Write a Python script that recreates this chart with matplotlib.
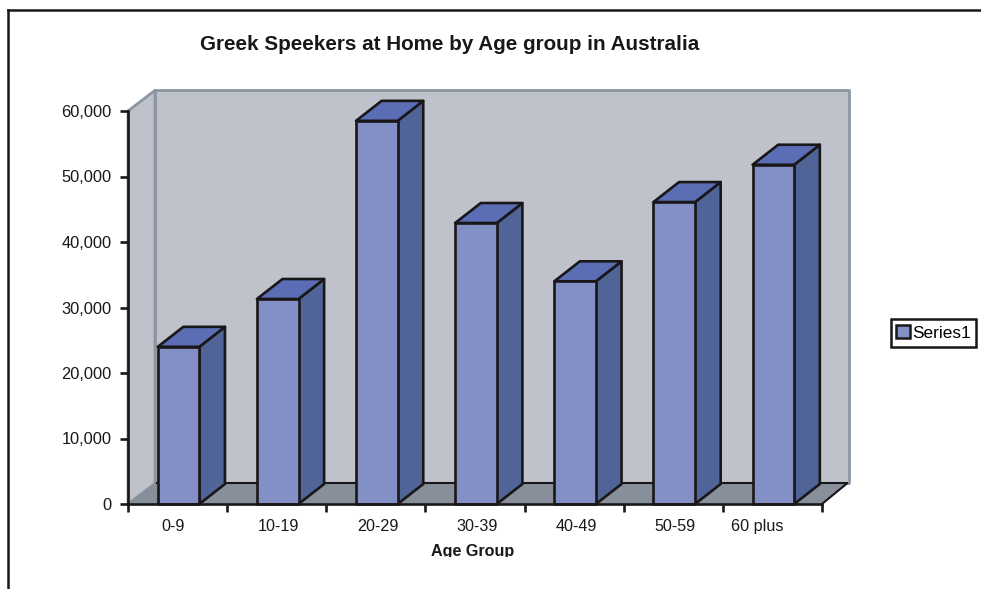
import matplotlib
matplotlib.use('Agg')
import matplotlib.pyplot as plt
import numpy as np
from matplotlib.lines import Line2D
from matplotlib.patches import Patch, Polygon
from matplotlib.transforms import Bbox, ScaledTranslation

plt.rcParams['font.family'] = ['Liberation Sans', 'DejaVu Sans']

age_groups = ['0-9', '10-19', '20-29', '30-39', '40-49', '50-59', '60 plus']
speakers = [24000, 31300, 58500, 42900, 34000, 46100, 51800]
y_ticks = [0, 10000, 20000, 30000, 40000, 50000, 60000]

W, H = 981, 589
DEPTH_X = 0.272     # wall/floor 3d offset in category units
DEPTH_Y = 3150      # 3d offset in value units
BAR_DX = 0.258      # bars are a little shallower than the floor
BAR_DY = 3050
BAR_W = 0.42

FRONT = '#8390c6'
SIDE = '#506497'
TOP = '#5a6db5'
WALL = '#bfc2cb'
WALL_EDGE = '#8c97a1'
FLOOR = '#87909a'
INK = '#1a1718'

fig = plt.figure(figsize=(W / 100, H / 100), dpi=100)
ax = fig.add_axes([128 / W, 1 - 504 / H, (822 - 128) / W, (504 - 111) / H])
ax.set_xlim(0, 7)
ax.set_ylim(0, 60000)
ax.patch.set_visible(False)
for side in ['top', 'right']:
    ax.spines[side].set_visible(False)
for side in ['left', 'bottom']:
    ax.spines[side].set_linewidth(1.9)
    ax.spines[side].set_color(INK)
    ax.spines[side].set_zorder(6)


def face(points, color, edge=INK, lw=1.9, z=3):
    ax.add_patch(Polygon(points, closed=True, facecolor=color, edgecolor=edge,
                         linewidth=lw, zorder=z, clip_on=False, joinstyle='round'))


# walls and floor
face([(DEPTH_X, DEPTH_Y), (7 + DEPTH_X, DEPTH_Y), (7 + DEPTH_X, 60000 + DEPTH_Y),
      (DEPTH_X, 60000 + DEPTH_Y)], WALL, WALL_EDGE, 2.0, 1)
face([(0, 0), (DEPTH_X, DEPTH_Y), (DEPTH_X, 60000 + DEPTH_Y), (0, 60000)], WALL, WALL_EDGE, 2.0, 1)
face([(0, 0), (DEPTH_X, DEPTH_Y), (7 + DEPTH_X, DEPTH_Y), (7, 0)], FLOOR, 'none', 0, 2)
ax.plot([DEPTH_X + 0.02, 7 + DEPTH_X - 0.02], [DEPTH_Y, DEPTH_Y], color=INK, lw=1.5, zorder=2, clip_on=False)
ax.plot([7, 7 + DEPTH_X - 0.02], [0, DEPTH_Y], color=INK, lw=1.5, zorder=2, clip_on=False)

# bars
for i, v in enumerate(speakers):
    x0 = i + 0.5 - BAR_W / 2 + 0.01
    x1 = x0 + BAR_W
    face([(x1, 0), (x1 + BAR_DX, BAR_DY), (x1 + BAR_DX, v + BAR_DY), (x1, v)], SIDE)
    face([(x0, v), (x1, v), (x1 + BAR_DX, v + BAR_DY), (x0 + BAR_DX, v + BAR_DY)], TOP)
    face([(x0, 0), (x1, 0), (x1, v), (x0, v)], FRONT, z=4)

ax.set_yticks(y_ticks)
ax.set_yticklabels(['{:,}'.format(t) for t in y_ticks])
ax.set_xticks(np.arange(8))
ax.set_xticklabels([])
ax.set_xticks(np.arange(7) + 0.5, minor=True)
ax.set_xticklabels(age_groups, minor=True)
ax.tick_params(axis='x', which='major', length=6, width=1.9, color=INK)
ax.tick_params(axis='x', which='minor', length=0, pad=11, labelsize=11.6, labelcolor=INK)
ax.tick_params(axis='y', length=6, width=1.9, color=INK, labelsize=11.8, labelcolor=INK, pad=6)

# x labels are not centred on their categories in the original, pixel nudges
nudges = [-5, 2, 2, 2, 2, 2, -15]
for lab, dx in zip(ax.get_xticklabels(minor=True), nudges):
    lab.set_transform(lab.get_transform() + ScaledTranslation(dx / 100, 0, fig.dpi_scale_trans))

# page frame
fig.add_artist(Line2D([8 / W, 8 / W], [0, 1 - 10 / H], color=INK, lw=1.8))
fig.add_artist(Line2D([8 / W, 1], [1 - 10 / H, 1 - 10 / H], color=INK, lw=1.8))

fig.text(449.5 / W, 1 - 44 / H, 'Greek Speekers at Home by Age group in Australia',
         ha='center', va='center', fontsize=14.9, fontweight='bold', color=INK)
xlab = fig.text(472.5 / W, 1 - 551.5 / H, 'Age Group', ha='center', va='center',
                fontsize=11.6, fontweight='bold', color=INK)
xlab.set_clip_box(Bbox([[400, H - 556.5], [550, H - 530]]))
xlab.set_clip_on(True)

leg = fig.legend(handles=[Patch(facecolor=FRONT, edgecolor=INK, linewidth=1.8, label='Series1')],
                 loc='center', bbox_to_anchor=(933.5 / W, 1 - 333 / H), frameon=True, fancybox=False,
                 framealpha=1, edgecolor=INK, fontsize=12.4, handlelength=0.8, handleheight=0.8,
                 handletextpad=0.1, borderpad=0.34, borderaxespad=0)
leg.get_frame().set_linewidth(1.8)

fig.savefig('out.png', dpi=100)
